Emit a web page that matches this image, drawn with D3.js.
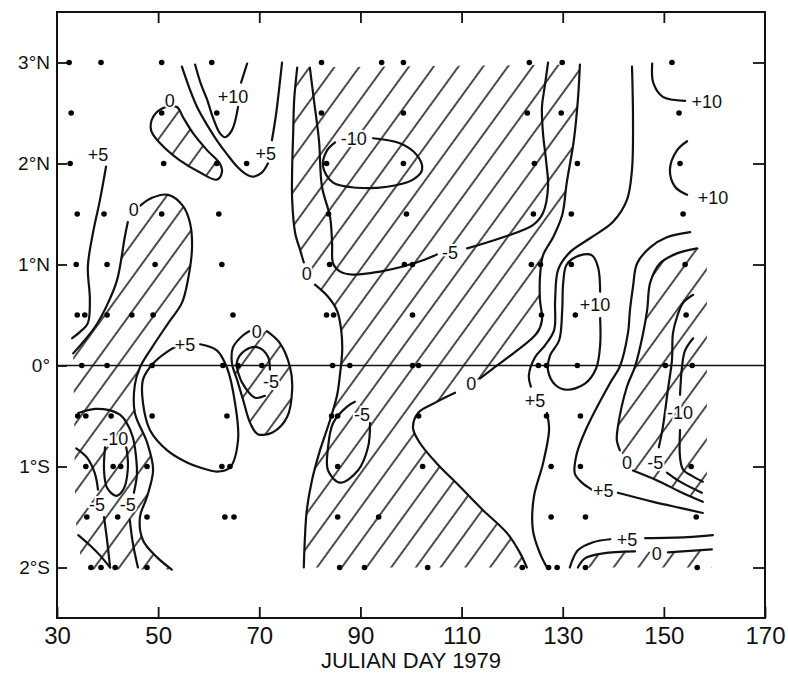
<!DOCTYPE html>
<html>
<head>
<meta charset="utf-8">
<script src="https://cdn.jsdelivr.net/npm/d3@7"></script>
<style>
body { margin: 0; background: #fff; }
svg text { font-family: "Liberation Sans", Arial, sans-serif; fill: #111; }
</style>
</head>
<body>
<svg width="788" height="675"></svg>
<script>
// observation dots: one list of julian days per latitude row
var stationLats = [3, 2.5, 2, 1.5, 1, 0.5, 0, -0.5, -1, -1.5, -2];
var stationDays = [
    [32.4, 38.7, 50.7, 60.6, 82.3, 94.2, 98.5, 123.4, 129.9, 151.6],
    [32.8, 50.7, 61.6, 82.3, 98.5, 123.0, 129.7, 153.0],
    [32.6, 51.1, 61.6, 67.5, 83.3, 98.5, 124.4, 132.9, 153.2],
    [34.0, 39.3, 50.7, 62.0, 83.7, 99.1, 124.2, 131.7, 153.8],
    [33.8, 39.9, 49.4, 62.6, 83.9, 98.7, 100.3, 123.8, 125.6, 131.7, 154.2],
    [34.0, 35.5, 39.9, 44.8, 49.0, 64.8, 83.3, 84.7, 100.3, 125.8, 132.5, 154.4],
    [34.9, 39.9, 48.8, 62.8, 65.8, 70.5, 84.5, 87.9, 100.3, 101.5, 125.2, 126.8, 132.9, 150.3, 155.6],
    [34.1, 35.7, 40.7, 48.8, 63.6, 84.3, 85.5, 101.5, 126.8, 133.5],
    [35.7, 41.1, 42.6, 47.8, 62.6, 64.2, 85.5, 102.3, 127.7, 133.5, 155.4],
    [35.9, 42.0, 47.8, 63.2, 65.0, 85.5, 93.6, 127.7, 134.5, 156.4],
    [36.7, 38.7, 41.5, 47.8, 85.9, 90.8, 103.3, 122.0, 127.2, 128.9, 134.5, 156.6]
];

// contour lines as [day, lat]; a line broken by its label is split in two pieces
var p5West = [[39.7,1.97],[38.5,1.64],[37.1,1.31],[36.1,0.98],[36.5,0.65],[36.1,0.42],[34.5,0.33],[33.0,0.27]];
var z0WestA = [[44.0,1.42],[43.4,1.27],[41.9,0.85],[40.1,0.62],[37.5,0.38],[33.2,0.12]];
var z0WestB = [[46.4,1.58],[48.8,1.66],[52.0,1.69],[54.9,1.58],[56.3,1.41],[56.7,1.17],[55.9,0.85],[54.7,0.62],
    [52.0,0.42],[48.8,0.18],[46.4,-0.02],[45.4,-0.19],[45.4,-0.47],[47.8,-0.76],[49.0,-1.03],[47.8,-1.30],
    [46.4,-1.50],[47.0,-1.73],[49.8,-1.90],[52.7,-2.02]];
var p5WestLoop = [[58.3,0.21],[61.6,0.15],[63.6,-0.02],[65.2,-0.37],[65.8,-0.74],[64.2,-1.01],[61.6,-1.05],
    [58.3,-1.01],[55.7,-0.96],[51.8,-0.84],[48.4,-0.64],[47.0,-0.37],[47.0,-0.14],[49.0,0.02],[51.9,0.14],[53.3,0.18]];
var m10West = [[39.5,-0.81],[39.3,-1.04],[39.9,-1.21],[41.7,-1.29],[43.2,-1.22],[44.0,-1.03],[43.8,-0.84],[43.4,-0.76]];
var m5WestA1 = [[33.8,-0.82],[35.9,-0.91],[37.5,-1.07],[38.1,-1.23]];
var m5WestA2 = [[39.3,-1.50],[39.9,-1.73],[40.5,-2.00]];
var m5WestB = [[34.2,-1.68],[36.5,-1.78],[38.5,-1.88],[40.5,-2.00]];
var m5WestC1 = [[34.2,-0.47],[37.5,-0.43],[40.1,-0.44],[42.5,-0.49],[43.8,-0.57],[45.0,-0.71],[45.6,-0.89],[45.8,-1.08],[45.2,-1.26]];
var m5WestC2 = [[44.4,-1.53],[45.0,-1.76],[46.0,-2.00]];
var z0BlobNW = [[51.0,2.55],[49.0,2.46],[48.6,2.33],[50.4,2.20],[54.3,2.03],[58.3,1.91],[61.6,1.84],[62.6,1.91],
    [62.2,2.00],[59.7,2.13],[56.9,2.30],[54.9,2.46],[53.7,2.56]];
var p5NW1 = [[54.7,2.96],[56.3,2.73],[57.7,2.56],[59.7,2.38],[61.6,2.23],[63.8,2.08],[65.6,1.97],[67.2,1.90],[68.8,1.87],[70.5,1.91],[71.7,2.00]];
var p5NW2 = [[72.5,2.23],[73.3,2.48],[73.9,2.73],[74.5,3.00]];
var p10NW1 = [[57.3,2.98],[58.5,2.78],[59.7,2.63],[60.8,2.46],[62.2,2.30],[63.2,2.26],[64.6,2.33],[65.8,2.56]];
var p10NW2 = [[66.4,2.80],[67.6,2.99]];
var z0Loop70 = [[71.5,0.34],[74.1,0.22],[76.1,-0.02],[76.5,-0.24],[75.5,-0.51],[72.7,-0.66],[69.7,-0.68],[68.2,-0.57],
    [66.8,-0.34],[65.6,-0.14],[64.6,0.02],[64.8,0.18],[66.8,0.30],[68.0,0.34]];
var m5Loop70 = [[72.1,-0.04],[71.7,0.09],[69.7,0.18],[67.2,0.15],[65.6,0.04],[65.8,-0.07],[67.2,-0.22],[69.2,-0.32],[71.1,-0.30]];
var z0MidW1 = [[77.5,2.95],[76.9,2.63],[76.7,2.30],[76.5,1.94],[76.5,1.64],[77.1,1.31],[78.1,1.14],[78.8,1.02]];
var z0MidW2 = [[81.0,0.80],[83.6,0.68],[85.4,0.54],[86.2,0.35],[86.4,0.15],[86.0,-0.07],[85.4,-0.29],[84.0,-0.54],
    [82.0,-0.84],[80.4,-1.14],[79.4,-1.43],[79.0,-1.73],[78.8,-2.00]];
var m5Mid1 = [[80.0,2.95],[80.8,2.63],[81.8,2.23],[82.4,1.77],[84.0,1.47],[84.4,1.21],[84.6,1.01],[86.0,0.93],
    [88.5,0.90],[93.9,0.93],[98.4,0.98],[102.8,1.05],[105.1,1.10]];
var m5Mid2 = [[111.1,1.16],[118.2,1.27],[124.1,1.39],[126.1,1.51],[127.1,1.77],[126.7,2.03],[126.1,2.30],[125.9,2.56],[126.5,2.78],[127.1,3.00]];
var m10Mid = [[92.5,2.25],[97.8,2.20],[101.2,2.08],[102.2,1.94],[100.4,1.84],[95.3,1.77],[89.3,1.76],[84.6,1.81],[82.6,1.97],[83.4,2.13],[85.0,2.21]];
var m5Loop88 = [[91.9,-0.57],[91.5,-0.81],[89.5,-1.04],[86.0,-1.16],[83.6,-1.04],[83.6,-0.81],[84.6,-0.57],[87.3,-0.41],[88.9,-0.36]];
var z0MidE1 = [[133.4,2.98],[133.0,2.63],[132.2,2.23],[130.8,1.81],[129.9,1.49],[128.1,1.27],[126.1,1.09],[125.5,0.87],
    [125.5,0.65],[125.9,0.45],[124.9,0.32],[121.0,0.15],[116.2,-0.03],[113.6,-0.13]];
var z0MidE2 = [[108.7,-0.27],[104.7,-0.37],[101.4,-0.47],[100.4,-0.62],[101.8,-0.77],[105.1,-0.97],[109.7,-1.20],
    [114.2,-1.43],[119.0,-1.66],[121.6,-1.86],[122.9,-2.00]];
var p5East1 = [[143.7,2.96],[143.9,2.43],[143.7,1.94],[142.7,1.64],[139.9,1.42],[135.4,1.26],[131.4,1.12],[129.1,0.95],
    [128.5,0.65],[128.3,0.35],[126.5,0.20],[124.5,0.08],[123.3,-0.10],[123.7,-0.21]];
var p5East2 = [[126.9,-0.47],[127.3,-0.64],[126.1,-0.97],[124.3,-1.30],[124.1,-1.63],[125.5,-1.86],[126.9,-2.00]];
var p10East = [[137.4,0.47],[137.4,0.20],[136.6,-0.03],[134.4,-0.18],[130.8,-0.24],[128.5,-0.19],[127.1,-0.05],[127.5,0.10],
    [129.3,0.25],[129.9,0.55],[130.1,0.82],[130.8,1.00],[133.4,1.09],[135.8,1.09],[137.0,0.97],[137.4,0.73]];
var p10NE1 = [[147.7,2.99],[147.9,2.80],[149.8,2.66],[154.2,2.62]];
var p10NE2 = [[154.6,2.22],[152.6,2.13],[151.2,1.94],[152.2,1.77],[154.6,1.69]];
var p5EV1 = [[155.2,1.32],[150.6,1.27],[147.3,1.17],[144.7,1.01],[143.9,0.78],[143.3,0.55],[142.9,0.32],[141.3,-0.01],
    [139.4,-0.17],[134.8,-0.61],[132.8,-0.87],[132.4,-1.07],[133.8,-1.16],[135.8,-1.23]];
var p5EV2 = [[140.9,-1.26],[147.9,-1.35],[153.2,-1.41],[157.7,-1.46]];
var z0EV1 = [[156.6,1.16],[152.6,1.11],[149.2,1.01],[147.3,0.82],[146.7,0.55],[145.9,0.32],[144.3,-0.01],[142.7,-0.21],
    [140.9,-0.61],[140.7,-0.74],[141.3,-0.84]];
var z0EV2 = [[143.9,-1.04],[149.2,-1.15],[153.2,-1.25],[157.7,-1.35]];
var m5EV1 = [[155.8,0.70],[153.8,0.62],[152.6,0.48],[151.8,0.32],[151.6,0.05],[150.8,-0.24],[149.8,-0.61],[149.0,-0.81]];
var m5EV2 = [[150.6,-1.06],[153.2,-1.15],[157.5,-1.26]];
var m10EV1 = [[155.8,0.27],[154.2,0.15],[153.6,-0.01],[153.2,-0.29]];
var m10EV2 = [[153.2,-0.64],[153.2,-0.91],[153.8,-1.03],[155.8,-1.10],[157.7,-1.15]];
var p5SE1 = [[131.4,-2.00],[133.0,-1.83],[136.0,-1.75],[139.4,-1.72]];
var p5SE2 = [[146.3,-1.71],[154.6,-1.70],[159.7,-1.68]];
var z0SE1 = [[133.0,-2.00],[134.4,-1.91],[138.0,-1.86],[144.3,-1.84]];
var z0SE2 = [[150.8,-1.85],[159.5,-1.82]];

var contourLabels = [
    [38.1,2.09,"+5"],[45.2,1.54,"0"],[52.3,2.62,"0"],[64.8,2.66,"+10"],[71.3,2.10,"+5"],
    [88.7,2.25,"-10"],[79.4,0.91,"0"],[107.7,1.12,"-5"],[55.3,0.21,"+5"],[69.5,0.34,"0"],
    [72.3,-0.16,"-5"],[41.5,-0.72,"-10"],[37.9,-1.38,"-5"],[44.0,-1.38,"-5"],[90.3,-0.49,"-5"],
    [111.9,-0.18,"0"],[124.5,-0.35,"+5"],[136.4,0.60,"+10"],[158.5,2.61,"+10"],[159.7,1.66,"+10"],
    [153.2,-0.47,"-10"],[142.7,-0.96,"0"],[148.3,-0.96,"-5"],[138.0,-1.24,"+5"],[142.7,-1.72,"+5"],
    [148.6,-1.86,"0"]
];

var xTicks = [30, 50, 70, 90, 110, 130, 150, 170];
var latTicks = [3, 2, 1, 0, -1, -2];

var x = d3.scaleLinear().domain([30, 170]).range([57, 765]);
var y = d3.scaleLinear().domain([-2.5, 3.5]).range([618, 12]);

var svg = d3.select("svg");

svg.append("defs").append("pattern")
    .attr("id", "hatch")
    .attr("patternUnits", "userSpaceOnUse")
    .attr("width", 20).attr("height", 20)
    .attr("patternTransform", "rotate(36)")
    .append("line")
    .attr("x1", 10).attr("y1", -2).attr("x2", 10).attr("y2", 22)
    .attr("stroke", "#000").attr("stroke-width", 1.4);

var smooth = d3.line()
    .x(function (d) { return x(d[0]); })
    .y(function (d) { return y(d[1]); })
    .curve(d3.curveCatmullRom.alpha(0.5));

// outline of a negative area: contour pieces joined, then straight edges of the data region
function outline(pieces, corners) {
    var d = pieces.map(function (p, i) {
        return i ? smooth(p).replace(/^M/, "L") : smooth(p);
    }).join("");
    corners.forEach(function (c) { d += "L" + x(c[0]) + "," + y(c[1]); });
    return d + "Z";
}

var hatched = [
    outline([z0WestA.slice().reverse(), z0WestB], [[35.0, -2.02], [33.6, -1.5], [33.4, -0.5]]),
    outline([z0BlobNW], []),
    outline([z0Loop70], []),
    outline([z0MidW1, z0MidW2, z0MidE2.slice().reverse(), z0MidE1.slice().reverse()], []),
    outline([z0EV1, z0EV2], [[158.5, -1.35], [158.5, 1.16]]),
    outline([z0SE1, z0SE2], [[159.5, -2.0], [133.0, -2.0]])
];

svg.append("g").selectAll("path")
    .data(hatched)
    .enter().append("path")
    .attr("d", function (d) { return d; })
    .attr("fill", "url(#hatch)")
    .attr("stroke", "none");

// equator
svg.append("line")
    .attr("x1", x(30)).attr("x2", x(170))
    .attr("y1", y(0)).attr("y2", y(0))
    .attr("stroke", "#111").attr("stroke-width", 1.4);

var openLines = [p5West, z0WestA, z0WestB, p5WestLoop, m10West, m5WestA1, m5WestA2, m5WestB, m5WestC1, m5WestC2,
    p5NW1, p5NW2, p10NW1, p10NW2, z0Loop70, m5Loop70, z0MidW1, z0MidW2, m5Mid1, m5Mid2, m10Mid, m5Loop88,
    z0MidE1, z0MidE2, p5East1, p5East2, p10East, p10NE1, p10NE2, p5EV1, p5EV2, z0EV1, z0EV2, m5EV1, m5EV2,
    m10EV1, m10EV2, p5SE1, p5SE2, z0SE1, z0SE2];

svg.append("g").selectAll("path")
    .data(openLines)
    .enter().append("path")
    .attr("d", smooth)
    .attr("fill", "none")
    .attr("stroke", "#111")
    .attr("stroke-width", 2.2)
    .attr("stroke-linecap", "round");

svg.append("path")
    .attr("d", d3.line().x(function (d) { return x(d[0]); }).y(function (d) { return y(d[1]); })
        .curve(d3.curveCatmullRomClosed.alpha(0.5))(z0BlobNW))
    .attr("fill", "none").attr("stroke", "#111").attr("stroke-width", 2.2);

var dots = [];
stationLats.forEach(function (lat, i) {
    stationDays[i].forEach(function (day) { dots.push([day, lat]); });
});
svg.append("g").selectAll("circle")
    .data(dots)
    .enter().append("circle")
    .attr("cx", function (d) { return x(d[0]); })
    .attr("cy", function (d) { return y(d[1]); })
    .attr("r", 2.8)
    .attr("fill", "#000");

svg.append("g").selectAll("text")
    .data(contourLabels)
    .enter().append("text")
    .attr("x", function (d) { return x(d[0]); })
    .attr("y", function (d) { return y(d[1]); })
    .attr("dy", "0.36em")
    .attr("text-anchor", "middle")
    .attr("font-size", 18)
    .attr("stroke", "#fff")
    .attr("stroke-width", 4)
    .attr("paint-order", "stroke")
    .text(function (d) { return d[2]; });

// frame
svg.append("rect")
    .attr("x", x(30)).attr("y", y(3.5))
    .attr("width", x(170) - x(30)).attr("height", y(-2.5) - y(3.5))
    .attr("fill", "none").attr("stroke", "#111").attr("stroke-width", 2);

function latFmt(v) {
    if (v === 0) return "0\u00B0";
    return Math.abs(v) + "\u00B0" + (v > 0 ? "N" : "S");
}

function styleAxis(g, size) {
    g.select(".domain").remove();
    g.selectAll("line").attr("stroke", "#111").attr("stroke-width", 1.8);
    g.selectAll("text").attr("font-size", size).attr("fill", "#111");
}

svg.append("g")
    .attr("transform", "translate(0," + y(-2.5) + ")")
    .call(d3.axisBottom(x).tickValues(xTicks).tickSize(-11).tickPadding(9))
    .call(styleAxis, 24);

svg.append("g")
    .attr("transform", "translate(0," + y(3.5) + ")")
    .call(d3.axisTop(x).tickValues(xTicks.slice(1, -1)).tickSize(-11).tickFormat(""))
    .call(styleAxis, 10);

svg.append("g")
    .attr("transform", "translate(" + x(30) + ",0)")
    .call(d3.axisLeft(y).tickValues(latTicks).tickSize(-10).tickPadding(7).tickFormat(latFmt))
    .call(styleAxis, 19);

svg.append("g")
    .attr("transform", "translate(" + x(170) + ",0)")
    .call(d3.axisRight(y).tickValues(latTicks.filter(function (v) { return v !== 0; })).tickSize(-12).tickFormat(""))
    .call(styleAxis, 10);

svg.append("text")
    .attr("x", (x(30) + x(170)) / 2)
    .attr("y", 668)
    .attr("text-anchor", "middle")
    .attr("font-size", 22)
    .text("JULIAN DAY 1979");
</script>
</body>
</html>
